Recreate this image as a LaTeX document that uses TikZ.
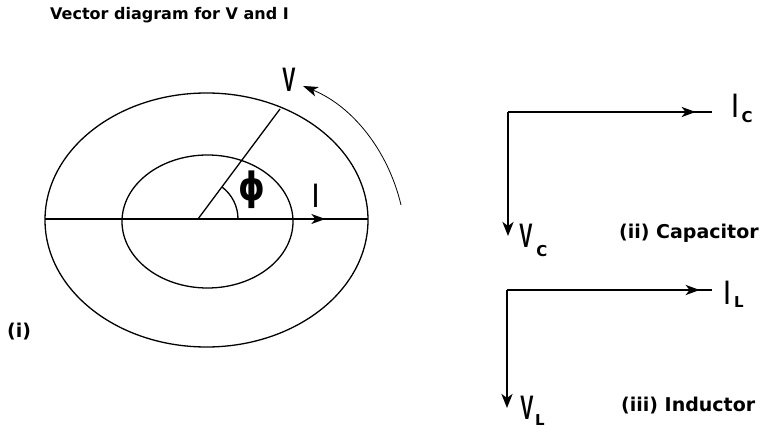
\documentclass[tikz,border=0pt]{standalone}
\usepackage{fontspec}
\setmainfont{Liberation Sans}
\newfontfamily\capfont{DejaVu Sans}
\usetikzlibrary{arrows.meta,decorations.markings}
\tikzset{
  thinline/.style={line width=1.3pt},
  vecline/.style={line width=2.4pt},
  headarrow/.style={-{Stealth[length=14pt,width=11pt,inset=4pt]}},
  midhead/.style={postaction={decorate},decoration={markings,mark=at position #1 with {\arrow{Stealth[length=14pt,width=10pt,inset=4pt]}}}},
  biglabel/.style={inner sep=0pt,font=\bfseries\fontsize{34}{34}\selectfont},
  sublabel/.style={inner sep=0pt,font=\capfont\bfseries\fontsize{15}{15}\selectfont},
  caption/.style={inner sep=0pt,font=\capfont\bfseries\fontsize{19}{20}\selectfont,anchor=west}
}
\newcommand{\narrow}[1]{\scalebox{0.58}[1]{#1}}
\begin{document}
\begin{tikzpicture}[x=1pt,y=-1pt]
\useasboundingbox (0,0) rectangle (764,430);
% title
\node[caption,font=\capfont\bfseries\fontsize{16}{17}\selectfont] (title) at (50,15.5) {Vector diagram for V and I};
\node[caption] (lab1) at (7,332) {(i)};
% ellipses
\draw[thinline] (206.5,220) ellipse [x radius=161.5, y radius=127];
\draw[thinline] (207.5,221.5) ellipse [x radius=85.5, y radius=66.5];
\coordinate (O) at (198,219);
\coordinate (Lft) at (45,219);
\coordinate (Rgt) at (368,219);
\coordinate (Vend) at (280,109);
\coordinate (Aend) at (238,219);
\draw[thinline,midhead=0.868] (Lft) -- (Rgt);
\draw[thinline] (O) -- (Vend);
\draw[thinline] (Aend) arc[start angle=0,end angle=53,radius=40pt];
\node[inner sep=0pt,font=\capfont\bfseries\fontsize{26}{26}\selectfont] (phi) at (252,190) {\scalebox{1.3}[1.5]{ϕ}};
\node[biglabel] (Ilab) at (315.5,196) {\narrow{I}};
\node[biglabel] (Vlab) at (289,80) {\narrow{V}};
\coordinate (arcS) at (401,205);
\coordinate (arcE) at (303,86);
\draw[line width=0.8pt,-{Stealth[length=15pt,width=10pt,inset=4pt]}] (arcS) .. controls (388,150) and (352,106) .. (arcE);
% capacitor
\coordinate (cO) at (508,112);
\coordinate (cH) at (712,112);
\coordinate (cV) at (508,236);
\draw[vecline,midhead=0.92] (cO) -- (cH);
\draw[vecline,headarrow] (cO) -- (cV);
\node[biglabel] (IC) at (735,106) {\narrow{I}};
\node[sublabel] (ICs) at (747,117) {C};
\node[biglabel] (VC) at (526,236) {\narrow{V}};
\node[sublabel] (VCs) at (542,251) {C};
\node[caption] (capname) at (619,233) {(ii) Capacitor};
% inductor
\coordinate (lO) at (507,290);
\coordinate (lH) at (712,290);
\coordinate (lV) at (507,408);
\draw[vecline,midhead=0.94] (lO) -- (lH);
\draw[vecline,headarrow] (lO) -- (lV);
\node[biglabel] (IL) at (727,293) {\narrow{I}};
\node[sublabel] (ILs) at (739,302) {L};
\node[biglabel] (VL) at (527,408) {\narrow{V}};
\node[sublabel] (VLs) at (540,420) {L};
\node[caption] (indname) at (621,406) {(iii) Inductor};
\end{tikzpicture}
\end{document}
